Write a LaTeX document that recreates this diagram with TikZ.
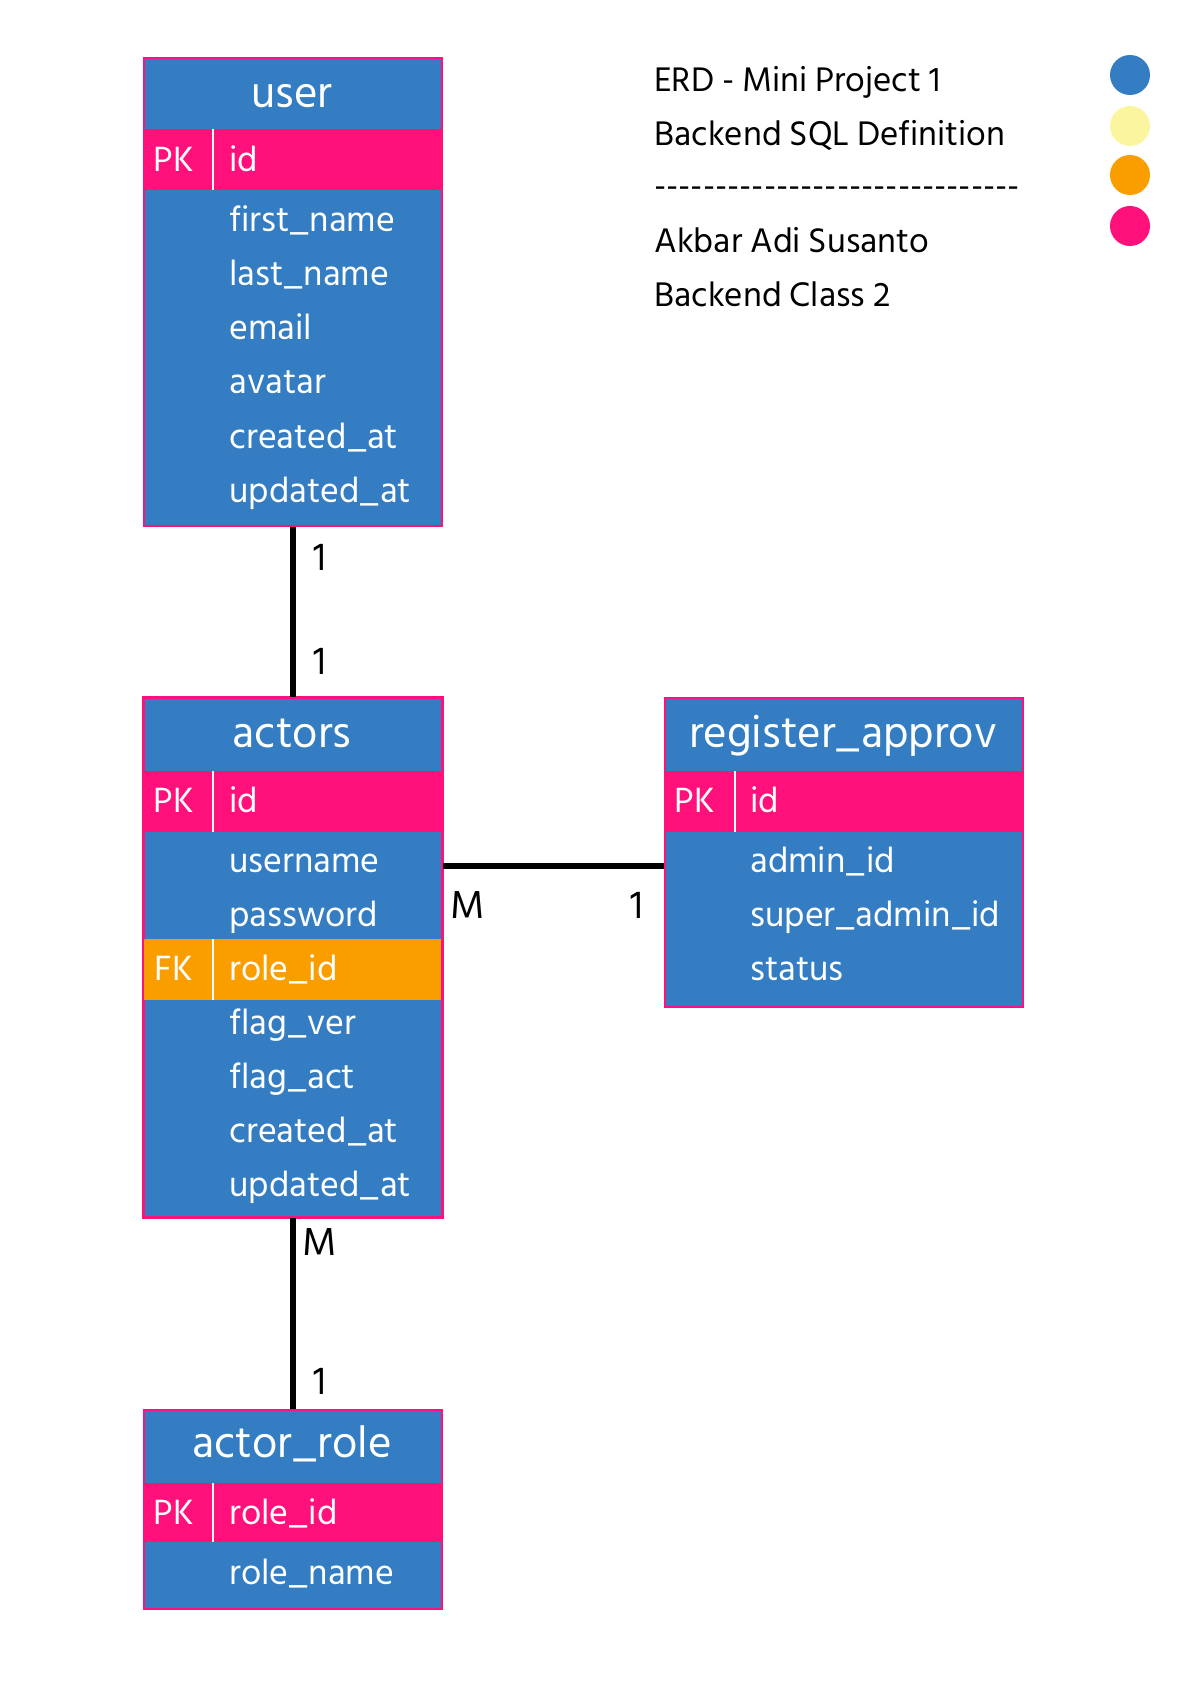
\documentclass[tikz,border=0pt]{standalone}
\usepackage{fontspec}
\setmainfont{Hind Siliguri}[Ligatures=TeXOff]
\usetikzlibrary{calc}
\definecolor{erdblue}{RGB}{52,125,194}
\definecolor{erdpink}{RGB}{255,16,122}
\definecolor{erdorange}{RGB}{250,158,0}
\definecolor{erdyellow}{RGB}{251,245,160}
\tikzset{
  tbl/.style={draw=erdpink, line width=1pt, fill=erdblue, inner sep=0pt, anchor=north west},
  pkrow/.style={fill=erdpink, inner sep=0pt, anchor=north west},
  fkrow/.style={fill=erdorange, inner sep=0pt, anchor=north west},
  sep/.style={draw=white, line width=1pt},
  title/.style={text=white, font=\fontsize{22.5}{26}\selectfont, anchor=base, inner sep=0pt},
  fld/.style={text=white, font=\fontsize{18}{21}\selectfont, anchor=base west, inner sep=0pt},
  keylbl/.style={text=white, font=\fontsize{18}{21}\selectfont, anchor=base, inner sep=0pt},
  card/.style={font=\fontsize{20}{24}\selectfont, anchor=base, inner sep=0pt},
  note/.style={font=\fontsize{17.5}{21}\selectfont, anchor=base west, inner sep=0pt},
  conn/.style={line width=2.8pt},
  dot/.style={circle, minimum size=20pt, inner sep=0pt}
}

\begin{document}
\begin{tikzpicture}[x=0.5pt, y=-0.5pt]
	%%%%% PAGE %%%%%
	\fill[white] (0,0) rectangle (1190,1684);
	\useasboundingbox (0,0) rectangle (1190,1684);
	
	%%%%% user %%%%%
	\node[tbl, minimum width=149pt, minimum height=234pt] (user) at (143,57) {};
	\node[pkrow, minimum width=149pt, minimum height=30.5pt] (user-pk) at (143,129) {};
	\draw[sep] (213,129) -- (213,190);
	\node[title] (user-name) at (292,108) {user};
	\node[keylbl] (user-pklbl) at (174,172) {PK};
	\node[fld] (user-id) at (229,172) {id};
	\node[fld] (user-first) at (229,232) {first\_name};
	\node[fld] (user-last) at (229,286) {last\_name};
	\node[fld] (user-email) at (229,340) {email};
	\node[fld] (user-avatar) at (229,394) {avatar};
	\node[fld] (user-created) at (229,448) {created\_at};
	\node[fld] (user-updated) at (229,502) {updated\_at};
	
	%%%%% actors %%%%%
	\node[tbl, minimum width=149pt, minimum height=259.5pt] (actors) at (143,697) {};
	\node[pkrow, minimum width=149pt, minimum height=30.5pt] (actors-pk) at (143,771) {};
	\node[fkrow, minimum width=149pt, minimum height=30.5pt] (actors-fk) at (143,939) {};
	\draw[erdpink, line width=1pt] (actors.north west) rectangle (actors.south east);
	\draw[sep] (213,771) -- (213,832);
	\draw[sep] (213,939) -- (213,1000);
	\node[title] (actors-name) at (292,747) {actors};
	\node[keylbl] (actors-pklbl) at (174,812) {PK};
	\node[fld] (actors-id) at (229,812) {id};
	\node[fld] (actors-username) at (229,872) {username};
	\node[fld] (actors-password) at (229,926) {password};
	\node[keylbl] (actors-fklbl) at (174,980) {FK};
	\node[fld] (actors-role) at (229,980) {role\_id};
	\node[fld] (actors-ver) at (229,1034) {flag\_ver};
	\node[fld] (actors-act) at (229,1088) {flag\_act};
	\node[fld] (actors-created) at (229,1142) {created\_at};
	\node[fld] (actors-updated) at (229,1196) {updated\_at};
	
	%%%%% register_approv %%%%%
	\node[tbl, minimum width=179pt, minimum height=154.5pt] (reg) at (664,697) {};
	\node[pkrow, minimum width=179pt, minimum height=30.5pt] (reg-pk) at (664,771) {};
	\draw[sep] (735,771) -- (735,832);
	\node[title] (reg-name) at (843,747) {register\_approv};
	\node[keylbl] (reg-pklbl) at (695,812) {PK};
	\node[fld] (reg-id) at (750,812) {id};
	\node[fld] (reg-admin) at (750,872) {admin\_id};
	\node[fld] (reg-super) at (750,926) {super\_admin\_id};
	\node[fld] (reg-status) at (750,980) {status};
	
	%%%%% actor_role %%%%%
	\node[tbl, minimum width=149pt, minimum height=99.5pt] (role) at (143,1409) {};
	\node[pkrow, minimum width=149pt, minimum height=29.5pt] (role-pk) at (143,1483) {};
	\draw[sep] (213,1483) -- (213,1542);
	\node[title] (role-name) at (292,1457) {actor\_role};
	\node[keylbl] (role-pklbl) at (174,1524) {PK};
	\node[fld] (role-id) at (229,1524) {role\_id};
	\node[fld] (role-rname) at (229,1584) {role\_name};
	
	%%%%% relations %%%%%
	\draw[conn] (user.south) -- (actors.north);
	\draw[conn] ($(actors.north east)+(0,169)$) -- ($(reg.north west)+(0,169)$);
	\draw[conn] (actors.south) -- (role.north);
	
	\node[card] (card-user) at (320,570) {1};
	\node[card] (card-actors-top) at (320,674) {1};
	\node[card] (card-actors-right) at (468,918) {M};
	\node[card] (card-reg) at (637,918) {1};
	\node[card] (card-actors-bottom) at (320,1255) {M};
	\node[card] (card-role) at (320,1394) {1};
	
	%%%%% notes %%%%%
	\node[note] (note-title) at (654,92) {ERD - Mini Project 1};
	\node[note] (note-sub) at (654,146) {Backend SQL Definition};
	\node[note] (note-rule) at (654,198) {------------------------------};
	\node[note] (note-author) at (654,253) {Akbar Adi Susanto};
	\node[note] (note-class) at (654,307) {Backend Class 2};
	
	\node[dot, fill=erdblue] (dot-blue) at (1130,75) {};
	\node[dot, fill=erdyellow] (dot-yellow) at (1130,126) {};
	\node[dot, fill=erdorange] (dot-orange) at (1130,175) {};
	\node[dot, fill=erdpink] (dot-pink) at (1130,226) {};
\end{tikzpicture}
\end{document}
